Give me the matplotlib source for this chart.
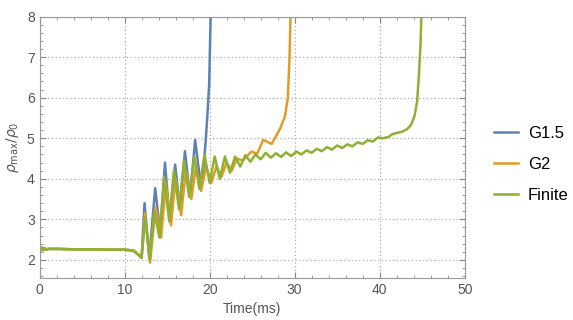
import matplotlib
matplotlib.use("Agg")
import matplotlib.pyplot as plt
from matplotlib.ticker import MultipleLocator

plt.rcParams['font.family'] = ['Liberation Sans', 'DejaVu Sans']

# early part, shared by all three runs
t_start = [0, 0.15, 0.3, 0.45, 0.6, 0.8, 1.0, 2, 4, 6, 8, 10, 11, 11.5, 12.0]
v_start = [2.31, 2.23, 2.3, 2.24, 2.29, 2.25, 2.27, 2.27, 2.26, 2.26, 2.25, 2.25, 2.23, 2.15, 2.05]

# G1.5
t_g15 = t_start + [12.35, 12.9, 13.6, 14.2, 14.75, 15.3, 15.95, 16.5, 17.1, 17.7,
                   18.3, 18.95, 19.3, 19.55, 19.75, 19.95, 20.05, 20.15]
v_g15 = v_start + [3.4, 2.05, 3.77, 2.65, 4.4, 3.0, 4.35, 3.25, 4.68, 3.55,
                   4.96, 3.85, 4.3, 4.96, 5.6, 6.35, 7.3, 8.3]

# G2
t_g2 = t_start + [12.4, 13.0, 13.65, 14.3, 14.85, 15.45, 16.0, 16.65, 17.2, 17.85,
                  18.4, 19.0, 19.6, 20.2, 20.8, 21.4, 22.0, 22.6, 23.2, 23.9,
                  24.9, 25.6, 26.3, 27.3, 28.3, 28.85, 29.2, 29.4, 29.55]
v_g2 = v_start + [3.15, 1.93, 3.3, 2.55, 3.9, 2.85, 4.0, 3.1, 4.2, 3.5,
                  4.3, 3.7, 4.3, 3.9, 4.3, 4.05, 4.4, 4.2, 4.5, 4.45,
                  4.67, 4.62, 4.96, 4.86, 5.24, 5.53, 6.0, 7.0, 8.3]

# Finite
t_fin = t_start + [12.45, 12.95, 13.5, 14.1, 14.65, 15.25, 15.8, 16.4, 17.0, 17.6,
                   18.2, 18.8, 19.4, 20.0, 20.6, 21.2, 21.8, 22.4, 23.0, 23.6,
                   24.2, 24.8, 25.4, 26.0, 26.6, 27.2, 27.8, 28.4, 29.0, 29.6,
                   30.2, 30.8, 31.4, 32.0, 32.6, 33.2, 33.8, 34.4, 35.0, 35.6,
                   36.2, 36.8, 37.4, 38.0, 38.6, 39.2, 39.8, 40.4, 41.0, 41.5,
                   42.0, 42.6, 43.2, 43.7, 44.1, 44.4, 44.6, 44.8, 44.95]
v_fin = v_start + [3.05, 2.0, 3.2, 2.55, 4.05, 2.95, 4.2, 3.25, 4.45, 3.55,
                   4.55, 3.75, 4.6, 3.9, 4.55, 4.0, 4.55, 4.15, 4.55, 4.3,
                   4.58, 4.42, 4.6, 4.48, 4.64, 4.52, 4.63, 4.54, 4.65, 4.56,
                   4.67, 4.6, 4.7, 4.64, 4.74, 4.68, 4.78, 4.72, 4.82, 4.76,
                   4.85, 4.8, 4.9, 4.86, 4.95, 4.92, 5.02, 5.0, 5.03, 5.1,
                   5.13, 5.16, 5.22, 5.33, 5.55, 5.9, 6.5, 7.3, 8.3]

fig = plt.figure(figsize=(5.73, 3.2), dpi=100)
ax = fig.add_axes([0.069, 0.131, 0.742, 0.817])

ax.plot(t_g15, v_g15, color='#5E81B5', lw=1.8, label='G1.5')
ax.plot(t_g2, v_g2, color='#E19C24', lw=1.8, label='G2')
ax.plot(t_fin, v_fin, color='#8FB032', lw=1.8, label='Finite')

ax.set_xlim(0, 50)
ax.set_ylim(1.55, 8)
ax.xaxis.set_major_locator(MultipleLocator(10))
ax.xaxis.set_minor_locator(MultipleLocator(2))
ax.yaxis.set_major_locator(MultipleLocator(1))
ax.yaxis.set_minor_locator(MultipleLocator(0.2))
ax.grid(True, which='major', color='#aaaaaa', ls=(0, (1, 2)), lw=0.9)
ax.tick_params(which='both', direction='in', top=True, right=True,
               colors='#888888', labelcolor='#555555', labelsize=10)
ax.tick_params(which='major', length=4)
ax.tick_params(which='minor', length=2)
for s in ax.spines.values():
    s.set_color('#999999')

ax.set_xlabel('Time(ms)', color='#555555', fontsize=10)
ax.set_ylabel(r'$\rho_{\mathrm{max}}/\rho_0$', color='#555555', fontsize=10, labelpad=4)

ax.legend(loc='center left', bbox_to_anchor=(1.07, 0.435), frameon=False,
          fontsize=12, handlelength=1.4, handletextpad=0.6, borderpad=0,
          borderaxespad=0, labelspacing=0.95)

fig.savefig('out.png', dpi=100)
